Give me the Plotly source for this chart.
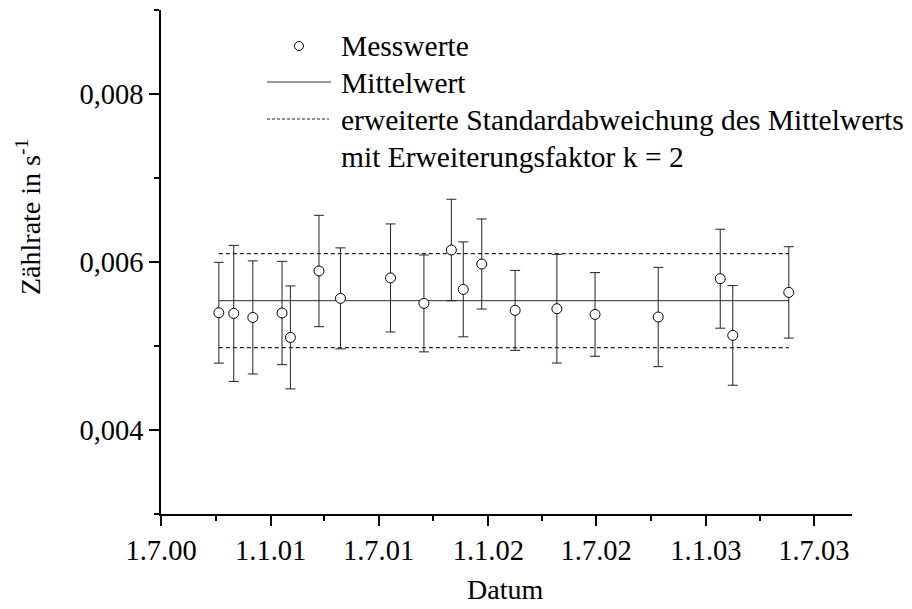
import plotly.graph_objects as go

# Data
dates = ["2000-10-06", "2000-10-31", "2000-12-02", "2001-01-20", "2001-02-03",
         "2001-03-23", "2001-04-28", "2001-07-21", "2001-09-15", "2001-10-31",
         "2001-11-20", "2001-12-21", "2002-02-15", "2002-04-26", "2002-06-29",
         "2002-10-13", "2003-01-25", "2003-02-15", "2003-05-20"]
rates = [0.005396, 0.005388, 0.005340, 0.005393, 0.005102,
         0.005893, 0.005567, 0.005810, 0.005507, 0.006143,
         0.005674, 0.005976, 0.005424, 0.005444, 0.005376,
         0.005345, 0.005801, 0.005126, 0.005638]
errors = [0.000600, 0.000810, 0.000673, 0.000615, 0.000613,
          0.000663, 0.000601, 0.000643, 0.000577, 0.000604,
          0.000565, 0.000536, 0.000476, 0.000647, 0.000498,
          0.000591, 0.000589, 0.000593, 0.000544]
mean_value = 0.00554
expanded_unc = 0.00056

x_tickvals = ["2000-07-01", "2001-01-01", "2001-07-01", "2002-01-01",
              "2002-07-01", "2003-01-01", "2003-07-01"]
x_ticktext = ["1.7.00", "1.1.01", "1.7.01", "1.1.02", "1.7.02", "1.1.03", "1.7.03"]
x_minor = ["2000-10-01", "2001-04-01", "2001-10-01", "2002-04-01",
           "2002-10-01", "2003-04-01"]
y_tickvals = [0.004, 0.006, 0.008]
y_ticktext = ["0,004", "0,006", "0,008"]
y_minor = [0.003, 0.005, 0.007, 0.009]

legend_labels = ["Messwerte", "Mittelwert",
                 "erweiterte Standardabweichung des Mittelwerts",
                 "mit Erweiterungsfaktor k = 2"]
y_title = "Zählrate in s<sup>-1</sup>"
x_title = "Datum"

FONT = "Liberation Serif, Times New Roman, serif"

W, H = 912, 609
ML, MR, MT, MB = 161, 60, 10, 95
PW, PH = W - ML - MR, H - MT - MB


def px(xp):
    return (xp - ML) / PW


def py(yp):
    return 1 - (yp - MT) / PH


fig = go.Figure()

fig.add_trace(go.Scatter(
    x=[dates[0], dates[-1]], y=[mean_value, mean_value],
    mode="lines", name=legend_labels[1], showlegend=False,
    line=dict(color="#555555", width=1.2),
))

fig.add_trace(go.Scatter(
    x=[dates[0], dates[-1], None, dates[0], dates[-1]],
    y=[mean_value + expanded_unc, mean_value + expanded_unc, None,
       mean_value - expanded_unc, mean_value - expanded_unc],
    mode="lines", showlegend=False,
    name=legend_labels[2] + " " + legend_labels[3],
    line=dict(color="#222222", width=1.2, dash="4px,3px"),
))

fig.add_trace(go.Scatter(
    x=dates, y=rates, mode="markers", name=legend_labels[0], showlegend=False,
    marker=dict(symbol="circle", size=10, color="white",
                line=dict(color="black", width=1)),
    error_y=dict(type="data", array=errors, visible=True,
                 color="#222222", thickness=1, width=5),
))

# Legend drawn as in the original (samples + labels)
shapes = [
    dict(type="circle", xref="paper", yref="paper",
         x0=px(294.5), x1=px(303.5), y0=py(50.5), y1=py(41.5),
         line=dict(color="black", width=1), fillcolor="white"),
    dict(type="line", xref="paper", yref="paper",
         x0=px(267), x1=px(331), y0=py(82), y1=py(82),
         line=dict(color="#333333", width=1.2)),
    dict(type="line", xref="paper", yref="paper",
         x0=px(267), x1=px(329), y0=py(119), y1=py(119),
         line=dict(color="#222222", width=1.2, dash="3px,2px")),
]
legend_y = [46, 83, 120, 157]
annotations = [
    dict(text=t, xref="paper", yref="paper", x=px(339), y=py(yy),
         xanchor="left", yanchor="middle", showarrow=False,
         font=dict(family=FONT, size=29.5, color="black"))
    for t, yy in zip(legend_labels, legend_y)
]
annotations.append(dict(
    text=y_title, xref="paper", yref="paper", x=px(28), y=py(217),
    xanchor="center", yanchor="middle", showarrow=False, textangle=-90,
    font=dict(family=FONT, size=28, color="black")))
annotations.append(dict(
    text=x_title, xref="paper", yref="paper", x=px(505), y=py(607),
    xanchor="center", yanchor="bottom", showarrow=False,
    font=dict(family=FONT, size=28, color="black")))

fig.update_layout(
    width=W, height=H,
    margin=dict(l=ML, r=MR, t=MT, b=MB, autoexpand=False),
    paper_bgcolor="white", plot_bgcolor="white",
    font=dict(family=FONT, size=28, color="black"),
    showlegend=False,
    shapes=shapes, annotations=annotations,
)

fig.update_xaxes(
    type="date", range=["2000-07-01", "2003-09-03"], automargin=False,
    tickmode="array", tickvals=x_tickvals, ticktext=x_ticktext,
    ticks="outside", ticklen=10, tickwidth=1.5, tickcolor="black",
    minor=dict(tickmode="array", tickvals=x_minor, ticks="outside",
               ticklen=5, tickwidth=1.5, tickcolor="black", showgrid=False),
    showline=True, linecolor="black", linewidth=1.5,
    showgrid=False, zeroline=False,
    tickfont=dict(family=FONT, size=28.5),
)
fig.update_yaxes(
    range=[0.003, 0.009], automargin=False,
    tickmode="array", tickvals=y_tickvals, ticktext=y_ticktext,
    ticks="outside", ticklen=10, tickwidth=1.5, tickcolor="black",
    minor=dict(tickmode="array", tickvals=y_minor, ticks="outside",
               ticklen=5, tickwidth=1.5, tickcolor="black", showgrid=False),
    showline=True, linecolor="black", linewidth=1.5,
    showgrid=False, zeroline=False,
    tickfont=dict(family=FONT, size=28.5),
)

fig.write_html("out.html")
